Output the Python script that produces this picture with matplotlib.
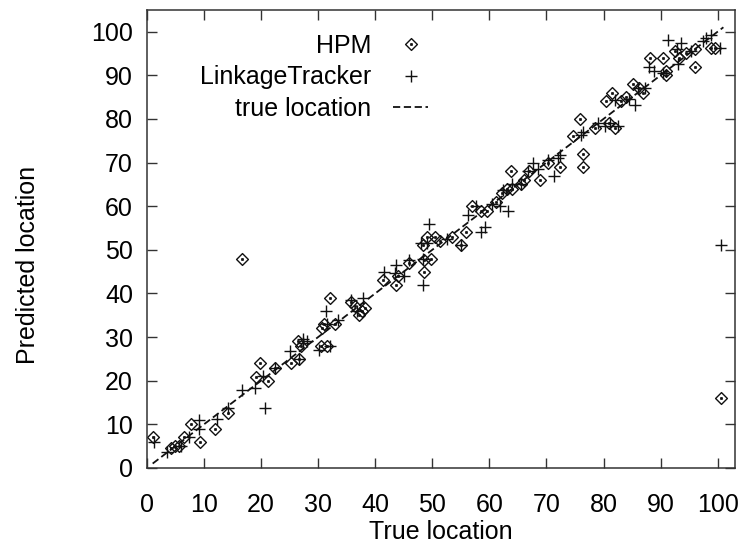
import matplotlib
matplotlib.use('Agg')
import matplotlib.pyplot as plt
from matplotlib.path import Path

plt.rcParams['font.family'] = ['Liberation Sans', 'DejaVu Sans']
plt.rcParams['font.size'] = 18

# HPM predictions (true location, predicted location)
hpm_x = [1, 5, 5.7, 6.5, 7.7, 9.3, 12, 14.2, 16.7, 19.1, 19.8, 21.2, 22.5, 25.3,
         26.7, 27, 26.5, 30.5, 31.5, 30.6, 31.1, 32, 32.9, 35.8, 36.4, 37.2, 37.6,
         38.2, 41.3, 43.6, 44, 46, 48.6, 48.6, 48.3, 49, 49.8, 50.5, 51.3, 55.1,
         55.9, 57, 58.6, 61.2, 62.2, 63, 64, 63.8, 65.6, 67, 68.8, 70.3, 72.3,
         74.6, 75.8, 76.4, 76.4, 81, 82, 80.5, 81.4, 83.1, 84, 85.2, 87, 88.1,
         90.4, 91, 91, 92.5, 93.2, 96, 96.1, 98.9, 99.6, 100.5, 4.2, 53.5, 59.5,
         66, 78.5, 86.3, 94.5]
hpm_y = [7, 5, 5, 7, 10, 6, 9, 12.7, 48, 20.8, 24, 20, 23, 24,
         25, 28, 29, 28, 28, 32, 33, 39, 33, 38, 37, 35, 36,
         36.6, 43, 42, 44, 47, 45, 47.7, 51, 53, 48, 53, 52, 51,
         54, 60, 59, 61, 63, 64, 64, 68, 65, 68, 66, 70, 69,
         76, 80, 72, 69, 79, 78, 84, 86, 84, 85, 88, 86, 94,
         94, 91, 90, 95.5, 94, 96, 92, 96.3, 96.3, 16, 4.5, 53, 59,
         66, 78, 87, 95]

# LinkageTracker predictions
lt_x = [1.3, 6, 7.4, 9.2, 9.2, 12.2, 14.2, 16.7, 19, 20.6, 20.4, 22.5, 25, 26.7,
        27.3, 27.3, 28, 30.2, 32, 31.6, 31.4, 33.4, 35.8, 36.8, 37.9, 41.6,
        43.4, 43.7, 45.1, 45.9, 48.3, 48.3, 48, 49, 49.5, 55.1, 56.2, 57.7,
        58.6, 59.2, 61.8, 63.2, 62.4, 64, 65.6, 66.7, 67.6, 70.3, 72, 71.4,
        72.3, 76.1, 76.4, 80.2, 82.5, 81.2, 82, 85.5, 86, 87.2, 88, 88.9, 91.3,
        92.8, 93.6, 93, 95.4, 97.4, 98, 98.9, 100.4, 100.5, 3.5, 52.5, 60.5,
        68.5, 79, 84.5, 90.5]
lt_y = [6, 5, 7, 11, 9, 11.2, 13.7, 17.9, 18.3, 13.7, 21, 23, 26.9, 25,
        28.6, 29.6, 29, 27, 28, 33, 36, 34, 38.5, 36, 39, 45,
        44.7, 46.6, 44, 47.7, 42, 48, 51.5, 51.5, 56, 51, 58, 60,
        54, 55.3, 60, 59, 63.8, 65, 65, 68, 70, 70.5, 71, 67,
        71.8, 76.4, 77, 78.3, 78.4, 79, 84.4, 83.3, 87, 87, 92, 91, 98,
        96, 97.4, 92.5, 95.5, 97.8, 98.5, 99.3, 96.3, 51, 3.6, 52.5, 60.5,
        68.5, 79, 84.5, 90.5]

# diagonal reference
true_x = [1, 101]
true_y = [1, 101]

# gnuplot-like diamond with a centre dot
diamond = Path([(0, 1), (1, 0), (0, -1), (-1, 0), (0, 1),
                (-0.12, -0.12), (0.12, -0.12), (0.12, 0.12), (-0.12, 0.12), (-0.12, -0.12)],
               [Path.MOVETO, Path.LINETO, Path.LINETO, Path.LINETO, Path.CLOSEPOLY,
                Path.MOVETO, Path.LINETO, Path.LINETO, Path.LINETO, Path.CLOSEPOLY])

ink = '#111111'
fig = plt.figure(figsize=(7.46, 5.46), dpi=100)
ax = fig.add_axes([0.197, 0.143, 0.788, 0.839])

ax.plot(hpm_x, hpm_y, linestyle='none', marker=diamond, ms=8.5, mfc='none',
        mec=ink, mew=1.0, label='HPM')
ax.plot(lt_x, lt_y, linestyle='none', marker='+', ms=8.5, mec=ink, mew=1.0,
        label='LinkageTracker')
ax.plot(true_x, true_y, color=ink, linewidth=1.3, linestyle=(0, (4, 2)),
        label='true location')

ax.set_xlim(0, 103)
ax.set_ylim(0, 105)
ax.set_xticks(range(0, 101, 10))
ax.set_yticks(range(0, 101, 10))
ax.tick_params(direction='in', length=7, width=1, color='#333333',
               top=True, right=True, labelsize=18)
ax.tick_params(axis='x', pad=18)
ax.tick_params(axis='y', pad=10)
for sp in ax.spines.values():
    sp.set_color('#333333')
    sp.set_linewidth(1.1)

ax.set_xlabel('True location', fontsize=18)
ax.set_ylabel('Predicted location', fontsize=18)
ax.xaxis.set_label_coords(0.5, -0.113)
ax.yaxis.set_label_coords(-0.182, 0.443)

ax.legend(loc='upper right', bbox_to_anchor=(0.50, 0.975), frameon=False,
          markerfirst=False, borderpad=0, handlelength=1.4, handletextpad=0.9,
          labelspacing=0.3, fontsize=18)

fig.savefig('out.png', dpi=100)
